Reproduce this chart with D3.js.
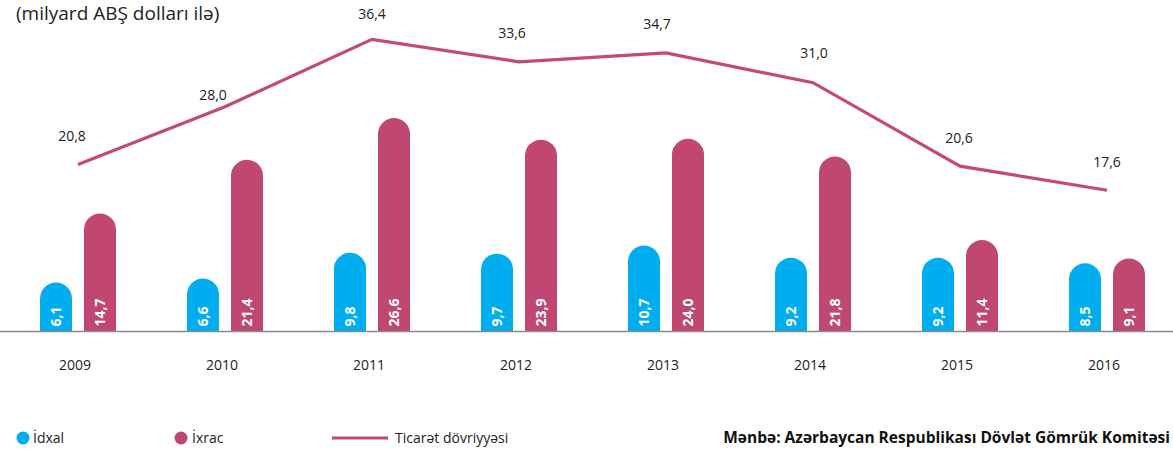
<!DOCTYPE html>
<html>
<head>
<meta charset="utf-8">
<script src="https://cdn.jsdelivr.net/npm/d3@7"></script>
<style>
  html, body { margin: 0; padding: 0; background: #fff; }
  svg { display: block; font-family: "Open Sans", Lato, sans-serif; }
</style>
</head>
<body>
<svg id="chart" width="1173" height="454"></svg>
<script>
var years = ['2009', '2010', '2011', '2012', '2013', '2014', '2015', '2016'];
var imports = [6.1, 6.6, 9.8, 9.7, 10.7, 9.2, 9.2, 8.5];
var exports = [14.7, 21.4, 26.6, 23.9, 24.0, 21.8, 11.4, 9.1];
var turnover = [20.8, 28.0, 36.4, 33.6, 34.7, 31.0, 20.6, 17.6];

// label nudges for the turnover values (layout only)
var turnoverLabelDx = [-6, -12, 0, -7, -9, 1, -1, 0];
var turnoverLabelDy = [-28, -12, -25, -29, -29, -30, -28, -28];

var importColor = '#00aeef';
var exportColor = '#c04772';
var lineColor = '#c2497a';

function fmt(v) {
    return v.toFixed(1).replace('.', ',');
}

var svg = d3.select('#chart');
var baseY = 331.5;

var x = d3.scalePoint()
    .domain(years)
    .range([78, 1107]);

var y = d3.scaleLinear()
    .domain([0, 41.3])
    .range([baseY, 0]);

var barW = 32, gap = 12;

// rounded-top bar path
function barPath(cx, top) {
    var r = barW / 2;
    var x0 = cx - r, x1 = cx + r;
    var h = baseY - top;
    if (h < r) { top = baseY - r; }
    return 'M' + x0 + ',' + baseY +
        'L' + x0 + ',' + (top + r) +
        'A' + r + ',' + r + ' 0 0 1 ' + x1 + ',' + (top + r) +
        'L' + x1 + ',' + baseY + 'Z';
}

var series = [
    { values: imports, color: importColor, off: -(barW + gap) / 2 },
    { values: exports, color: exportColor, off: (barW + gap) / 2 }
];

series.forEach(function (s) {
    var g = svg.append('g');
    g.selectAll('path')
        .data(s.values)
        .enter().append('path')
        .attr('d', function (d, i) { return barPath(x(years[i]) + s.off, y(d)); })
        .attr('fill', s.color);

    g.selectAll('text')
        .data(s.values)
        .enter().append('text')
        .attr('transform', function (d, i) {
            return 'translate(' + (x(years[i]) + s.off) + ',' + (baseY - 5) + ') rotate(-90)';
        })
        .attr('dy', '0.36em')
        .attr('fill', '#fff')
        .attr('font-weight', 700)
        .attr('font-size', 14)
        .text(function (d) { return fmt(d); });
});

// baseline
svg.append('line')
    .attr('x1', 0).attr('x2', 1173)
    .attr('y1', baseY).attr('y2', baseY)
    .attr('stroke', '#8a8a8a')
    .attr('stroke-width', 1.5);

// years
svg.append('g').selectAll('text')
    .data(years)
    .enter().append('text')
    .attr('x', function (d) { return x(d) - 3; })
    .attr('y', 370)
    .attr('text-anchor', 'middle')
    .attr('font-size', 14)
    .attr('fill', '#222')
    .text(function (d) { return d; });

// turnover line
var line = d3.line()
    .x(function (d, i) { return x(years[i]); })
    .y(function (d) { return y(d); });

svg.append('path')
    .datum(turnover)
    .attr('d', line)
    .attr('fill', 'none')
    .attr('stroke', lineColor)
    .attr('stroke-width', 3.2);

svg.append('g').selectAll('text')
    .data(turnover)
    .enter().append('text')
    .attr('x', function (d, i) { return x(years[i]) + turnoverLabelDx[i]; })
    .attr('y', function (d, i) { return y(d) + turnoverLabelDy[i]; })
    .attr('dy', '0.35em')
    .attr('text-anchor', 'middle')
    .attr('font-size', 14)
    .attr('fill', '#222')
    .text(function (d) { return fmt(d); });

// unit title
svg.append('text')
    .attr('x', 16)
    .attr('y', 20)
    .attr('font-size', 19)
    .attr('fill', '#222')
    .text('(milyard ABŞ dolları ilə)');

// legend
var legend = svg.append('g').attr('font-size', 14).attr('fill', '#222');
legend.append('circle').attr('cx', 23).attr('cy', 438).attr('r', 6.5).attr('fill', importColor);
legend.append('text').attr('x', 33).attr('y', 443).text('İdxal');
legend.append('circle').attr('cx', 181).attr('cy', 438).attr('r', 6.5).attr('fill', exportColor);
legend.append('text').attr('x', 192).attr('y', 443).text('İxrac');
legend.append('line')
    .attr('x1', 332).attr('x2', 388)
    .attr('y1', 438).attr('y2', 438)
    .attr('stroke', lineColor).attr('stroke-width', 3);
legend.append('text').attr('x', 395).attr('y', 443).text('Ticarət dövriyyəsi');

svg.append('text')
    .attr('x', 1170)
    .attr('y', 443)
    .attr('text-anchor', 'end')
    .attr('font-size', 15.5)
    .attr('font-weight', 700)
    .attr('fill', '#111')
    .text('Mənbə: Azərbaycan Respublikası Dövlət Gömrük Komitəsi');
</script>
</body>
</html>
